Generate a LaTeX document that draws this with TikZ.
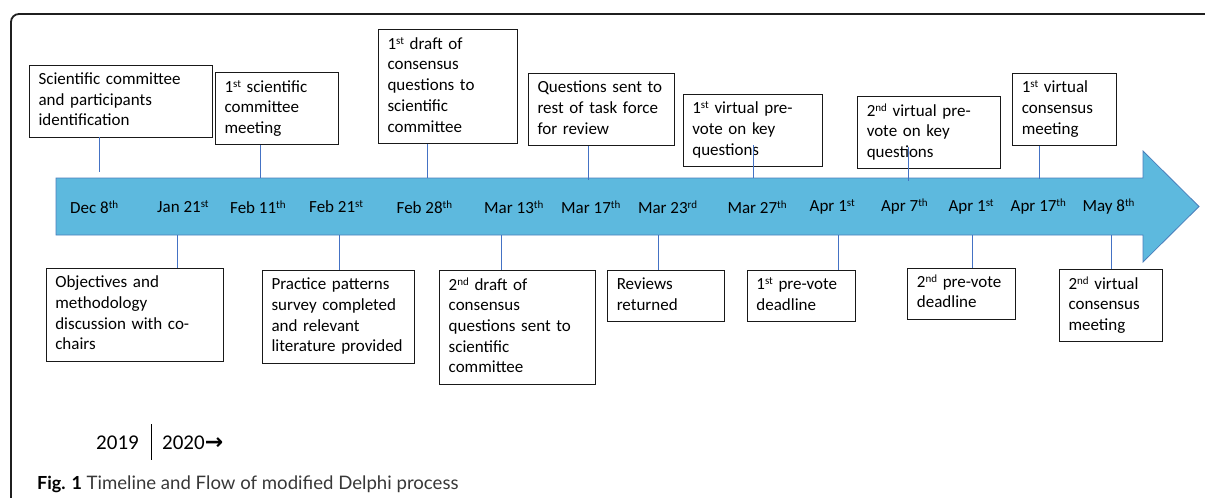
\documentclass[tikz,border=0pt]{standalone}
\usepackage{fontspec}
\setmainfont{Carlito}
\newfontfamily\capfont{Lato}
\newfontfamily\symfont{DejaVu Sans}
\newcommand\sps[1]{\raisebox{0.62ex}{\fontsize{11}{11}\selectfont #1}}
\definecolor{arrowfill}{HTML}{5DB9DE}
\definecolor{arrowedge}{HTML}{4A7EBB}
\definecolor{connblue}{HTML}{4472C4}
\newcommand\tbx[7]{\node[tbox, text width=#4pt, minimum height=#5pt] (#1) at (#2,#3) {\begin{tabular}{@{}l@{}}#7\end{tabular}};}
\begin{document}
\begin{tikzpicture}[x=1pt,y=-1pt,
  tbox/.style={draw=black!90, line width=0.9pt, inner xsep=9pt, inner ysep=0pt, align=left, font=\fontsize{17}{20.7}\selectfont},
  datelbl/.style={anchor=west, inner sep=0pt, font=\fontsize{17}{20}\selectfont},
  conn/.style={draw=connblue, line width=0.9pt},
  frame/.style={draw=black!88, line width=1.8pt, rounded corners=8pt}]
\useasboundingbox (0,0) rectangle (1205,498);
% outer frame
\draw[frame] (11,520) -- (11,14) -- (1230,14);
% timeline arrow
\draw[fill=arrowfill, draw=arrowedge, line width=0.8pt] (56,178) -- (1143,178) -- (1143,151) -- (1199,206.5) -- (1143,262) -- (1143,235) -- (56,235) -- cycle;
% dates
\node[datelbl] (d1) at (70,207) {Dec 8\sps{th}};
\node[datelbl] (d2) at (157,207) {Jan 21\sps{st}};
\node[datelbl] (d3) at (230,207) {Feb 11\sps{th}};
\node[datelbl] (d4) at (309,207) {Feb 21\sps{st}};
\node[datelbl] (d5) at (396.5,207) {Feb 28\sps{th}};
\node[datelbl] (d6) at (484,207) {Mar 13\sps{th}};
\node[datelbl] (d7) at (561,207) {Mar 17\sps{th}};
\node[datelbl] (d8) at (637.8,207) {Mar 23\sps{rd}};
\node[datelbl] (d9) at (727.3,207) {Mar 27\sps{th}};
\node[datelbl] (d10) at (809.5,207) {Apr 1\sps{st}};
\node[datelbl] (d11) at (880.9,207) {Apr 7\sps{th}};
\node[datelbl] (d12) at (948.4,207) {Apr 1\sps{st}};
\node[datelbl] (d13) at (1010.5,207) {Apr 17\sps{th}};
\node[datelbl] (d14) at (1082.3,207) {May 8\sps{th}};
% top boxes
\tbx{b1}{121.2}{101}{165.3}{72}{}{Scientific committee\\and participants\\identification}
\tbx{b2}{276.9}{108.7}{104.8}{72}{}{1\sps{st} scientific\\committee\\meeting}
\tbx{b3}{448.2}{86.5}{121.3}{114.4}{}{1\sps{st} draft of\\consensus\\questions to\\scientific\\committee}
\tbx{b4}{601.5}{109.3}{128}{72}{}{Questions sent to\\rest of task force\\for review}
\tbx{b5}{753}{130.3}{121.3}{72}{}{1\sps{st} virtual pre-\\vote on key\\questions}
\tbx{b6}{928.9}{132.7}{124.3}{72}{}{2\sps{nd} virtual pre-\\vote on key\\questions}
\tbx{b7}{1064.5}{109.3}{85.4}{72}{}{1\sps{st} virtual\\consensus\\meeting}
% bottom boxes
\tbx{b8}{134.9}{314.8}{159.2}{93}{}{Objectives and\\methodology\\discussion with co-\\chairs}
\tbx{b9}{338.5}{316.8}{134}{93}{}{Practice patterns\\survey completed\\and relevant\\literature provided}
\tbx{b10}{517.6}{327.4}{137.8}{113.3}{}{2\sps{nd} draft of\\consensus\\questions sent to\\scientific\\committee}
\tbx{b11}{666}{295.7}{98.5}{50.7}{}{Reviews\\returned}
\tbx{b12}{801.4}{295.7}{90}{50.7}{}{1\sps{st} pre-vote\\deadline}
\tbx{b13}{961.9}{293.5}{90}{51}{}{2\sps{nd} pre-vote\\deadline}
\tbx{b14}{1111}{305.7}{85}{72}{}{2\sps{nd} virtual\\consensus\\meeting}
% connector end points
\coordinate (e1) at (99,172);
\coordinate (e2) at (260.6,178);
\coordinate (e3) at (427.5,178);
\coordinate (e4) at (588.6,180);
\coordinate (s5) at (753.2,145);
\coordinate (e5) at (753.2,178);
\coordinate (s6) at (908.3,147);
\coordinate (e6) at (908.3,181);
\coordinate (e7) at (1039,179);
\coordinate (f8) at (177.6,235);
\coordinate (f9) at (339.8,235);
\coordinate (f10) at (501.3,235);
\coordinate (f11) at (658.3,235);
\coordinate (f12) at (838,235);
\coordinate (f13) at (972.3,235);
\coordinate (f14) at (1111.2,235);
% connectors
\draw[conn] (b1.south -| e1) -- (e1);
\draw[conn] (b2.south -| e2) -- (e2);
\draw[conn] (b3.south -| e3) -- (e3);
\draw[conn] (b4.south -| e4) -- (e4);
\draw[conn] (s5) -- (e5);
\draw[conn] (s6) -- (e6);
\draw[conn] (b7.south -| e7) -- (e7);
\draw[conn] (f8) -- (b8.north -| f8);
\draw[conn] (f9) -- (b9.north -| f9);
\draw[conn] (f10) -- (b10.north -| f10);
\draw[conn] (f11) -- (b11.north -| f11);
\draw[conn] (f12) -- (b12.north -| f12);
\draw[conn] (f13) -- (b13.north -| f13);
\draw[conn] (f14) -- (b14.north -| f14);
% years
\node[anchor=east, inner sep=0pt, font=\fontsize{21}{24}\selectfont] (y19) at (139,443) {2019};
\node[anchor=west, inner sep=0pt, font=\fontsize{21}{24}\selectfont] (y20) at (162,443) {2020{\symfont\bfseries\fontsize{22}{24}\selectfont →}};
\coordinate (ytop) at (151,424);
\coordinate (ybot) at (151,460);
\draw[black, line width=0.8pt] (ytop) -- (ybot);
% caption
\node[anchor=west, inner sep=0pt, font=\capfont\fontsize{18}{20}\selectfont] (cap) at (37,484) {\textbf{Fig. 1} {\fontsize{18.6}{20}\selectfont\color{black!78}Timeline and Flow of modified Delphi process}};
\end{tikzpicture}
\end{document}
